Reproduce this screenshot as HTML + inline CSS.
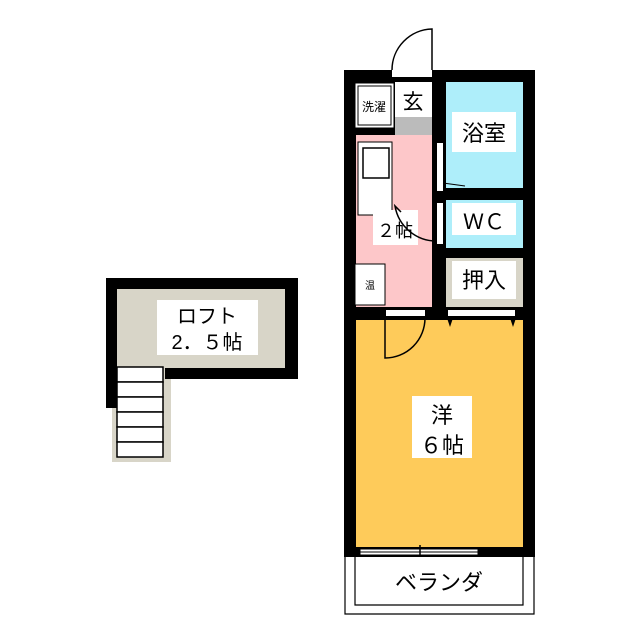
<!DOCTYPE html>
<html><head><meta charset="utf-8"><style>
html,body{margin:0;padding:0;background:#fff;}
svg{display:block;}
text{font-family:"Liberation Sans","Noto Sans CJK JP",sans-serif;fill:#000;}
</style></head><body>
<svg width="640" height="640" viewBox="0 0 640 640" xmlns="http://www.w3.org/2000/svg">
<!-- Loft -->
<rect x="112" y="365" width="59" height="97" fill="#d8d5c8"/>
<rect x="106" y="278" width="192" height="101" fill="#000"/>
<rect x="106" y="278" width="11" height="130" fill="#000"/>
<rect x="117" y="289" width="168" height="79" fill="#d8d5c8"/>
<rect x="117" y="368" width="48" height="12" fill="#d8d5c8"/>
<g fill="#fff" stroke="#000" stroke-width="1.5">
<rect x="117" y="367" width="46" height="15"/>
<rect x="117" y="382" width="46" height="15"/>
<rect x="117" y="397" width="46" height="15"/>
<rect x="117" y="412" width="46" height="15"/>
<rect x="117" y="427" width="46" height="15"/>
<rect x="117" y="442" width="46" height="15"/>
</g>
<rect x="157" y="300" width="101" height="55" fill="#fff"/>
<text x="207" y="323" font-size="20" text-anchor="middle">ロフト</text>
<text x="207" y="349" font-size="20" text-anchor="middle">2．５帖</text>

<!-- Main unit walls -->
<rect x="344" y="70" width="191" height="487" fill="#000"/>
<rect x="395" y="82" width="37" height="53" fill="#fff"/>
<rect x="395" y="117" width="37" height="18" fill="#bbb"/>
<rect x="356" y="135" width="76" height="172" fill="#fdc7c9"/>
<rect x="446" y="82" width="77" height="106" fill="#aeeefa"/>
<rect x="446" y="200" width="77" height="48" fill="#aeeefa"/>
<rect x="446" y="258" width="77" height="49" fill="#d8d5c8"/>
<rect x="356" y="320" width="167" height="227" fill="#fecb5a"/>
<!-- washer -->
<rect x="355" y="83" width="39" height="45" fill="#fff" stroke="#000" stroke-width="1"/>
<rect x="358" y="86" width="33" height="39" fill="#fff" stroke="#000" stroke-width="1"/>
<text x="374" y="111" font-size="12" text-anchor="middle">洗濯</text>
<rect x="398" y="86" width="30" height="28" fill="#fff"/>
<text x="413" y="109" font-size="21" text-anchor="middle">玄</text>
<!-- entry door -->
<rect x="392" y="70" width="40" height="7" fill="#fff"/>
<path d="M432 70 L432 29 A41 41 0 0 0 392 70" fill="none" stroke="#000" stroke-width="1.5"/>
<!-- sink -->
<rect x="358" y="142" width="34" height="73" fill="#fff" stroke="#000" stroke-width="1"/>
<rect x="363" y="148" width="26" height="30" fill="#fff" stroke="#000" stroke-width="1.5"/>
<!-- 温 -->
<rect x="355" y="264" width="30" height="41" fill="#fff" stroke="#000" stroke-width="1"/>
<text x="370" y="289" font-size="10" text-anchor="middle">温</text>
<!-- 2帖 -->
<rect x="373" y="210" width="45" height="35" fill="#fff"/>
<text x="395" y="237" font-size="18" text-anchor="middle">２帖</text>
<!-- bath/wc doors -->
<rect x="437" y="143" width="6" height="48" fill="#fff"/>
<path d="M443 183 L465 186" stroke="#000" stroke-width="1"/>
<rect x="437" y="203" width="6" height="41" fill="#fff"/>
<path d="M437 241 A42 42 0 0 1 395 206 L401 212" fill="none" stroke="#000" stroke-width="1.5"/>
<!-- labels -->
<rect x="452" y="112" width="64" height="40" fill="#fff"/>
<text x="484" y="141" font-size="22" text-anchor="middle">浴室</text>
<rect x="452" y="203" width="64" height="32" fill="#fff"/>
<text x="484" y="229" font-size="21" text-anchor="middle">ＷＣ</text>
<rect x="452" y="261" width="64" height="38" fill="#fff"/>
<text x="484" y="288" font-size="22" text-anchor="middle">押入</text>
<!-- room door -->
<rect x="386" y="310" width="39" height="6" fill="#fff"/>
<path d="M385 318 L385 358 A40 40 0 0 0 425 318" fill="none" stroke="#000" stroke-width="1.5"/>
<rect x="448" y="310" width="67" height="6" fill="#fff"/>
<path d="M447 318 L450 327 L453 318 Z M510 318 L513 327 L516 318 Z" fill="#000"/>
<rect x="412" y="396" width="60" height="62" fill="#fff"/>
<text x="442" y="423" font-size="22" text-anchor="middle">洋</text>
<text x="442" y="453" font-size="22" text-anchor="middle">６帖</text>
<!-- window -->
<rect x="360" y="549" width="118" height="6" fill="#fff" stroke="#000" stroke-width="1"/>
<line x1="360" y1="552" x2="478" y2="552" stroke="#000" stroke-width="1"/>
<line x1="420" y1="545" x2="420" y2="557" stroke="#000" stroke-width="1.5"/>
<!-- veranda -->
<path d="M345 557 L345 614 L534 614 L534 557" fill="none" stroke="#000" stroke-width="1.2"/>
<path d="M355 557 L355 605 L523 605 L523 557" fill="none" stroke="#000" stroke-width="1.2"/>
<text x="439" y="590" font-size="22" text-anchor="middle">ベランダ</text>
</svg>
</body></html>
